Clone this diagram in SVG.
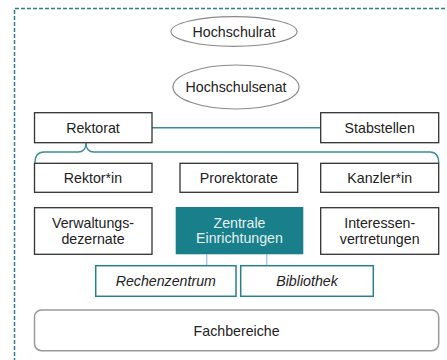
<svg xmlns="http://www.w3.org/2000/svg" width="447" height="360" viewBox="0 0 447 360">
<style>
text{font-family:"Liberation Sans",Arial,sans-serif;font-size:14.2px;fill:#222;text-anchor:middle;dominant-baseline:central}
.box{fill:#fff;stroke:#333;stroke-width:1.3}
.ell{fill:#fff;stroke:#8a8a8a;stroke-width:1.2}
.sub{fill:#fff;stroke:#2a7f8c;stroke-width:1.5}
.con{fill:none;stroke:#3d8c99;stroke-width:1.4}
</style>
<rect width="447" height="360" fill="#fff"/>
<path d="M14.5 362 V8.5 H450" fill="none" stroke="#2e7e8e" stroke-width="1.5" stroke-dasharray="4 2"/>
<g id="connectors">
<line class="con" x1="152" y1="127.7" x2="320.7" y2="127.7"/>
<path class="con" d="M86 142.7 Q86 152 78 152 H44 Q35 152 35 163 M86 142.7 Q86 152 94 152 H430 Q438.7 152 438.7 163"/>
<line x1="206.7" y1="254.3" x2="206.7" y2="265.7" stroke="#a9c9e6" stroke-width="1.4"/>
<line x1="266.7" y1="254.3" x2="266.7" y2="265.7" stroke="#a9c9e6" stroke-width="1.4"/>
</g>
<g id="hochschulrat"><ellipse class="ell" cx="234" cy="31.5" rx="63" ry="14.8"/><text x="234" y="31.5">Hochschulrat</text></g>
<g id="hochschulsenat"><ellipse class="ell" cx="236" cy="87" rx="63" ry="22"/><text x="236" y="87">Hochschulsenat</text></g>
<g id="rektorat"><rect class="box" x="34.5" y="112.7" width="117.5" height="30"/><text x="93" y="127.7">Rektorat</text></g>
<g id="stabstellen"><rect class="box" x="320.7" y="112.7" width="118" height="30"/><text x="379.7" y="127.7">Stabstellen</text></g>
<g id="rektorin"><rect class="box" x="34.5" y="163.3" width="117.5" height="29"/><text x="93" y="178">Rektor*in</text></g>
<g id="prorektorate"><rect class="box" x="180" y="163.3" width="117.7" height="29"/><text x="238.8" y="178">Prorektorate</text></g>
<g id="kanzlerin"><rect class="box" x="320.7" y="163.3" width="118" height="29"/><text x="379.7" y="178">Kanzler*in</text></g>
<g id="verwaltung"><rect class="box" x="34.5" y="207.7" width="117.5" height="46.6"/><text x="93" y="223">Verwaltungs-</text><text x="93" y="238.5">dezernate</text></g>
<g id="zentrale"><rect x="175.7" y="207" width="127.6" height="47.3" fill="#197f8b"/><text x="239.5" y="222.7" style="fill:#e3f1f2">Zentrale</text><text x="239.5" y="238.3" style="fill:#e3f1f2">Einrichtungen</text></g>
<g id="interessen"><rect class="box" x="320.7" y="207.7" width="118" height="46.6"/><text x="379.7" y="223">Interessen-</text><text x="379.7" y="238.5">vertretungen</text></g>
<g id="rechenzentrum"><rect class="sub" x="95.7" y="265.7" width="140.3" height="30.6"/><text x="165.8" y="281" font-style="italic">Rechenzentrum</text></g>
<g id="bibliothek"><rect class="sub" x="240.7" y="265.7" width="132.6" height="30.6"/><text x="307" y="281" font-style="italic">Bibliothek</text></g>
<g id="fachbereiche"><rect x="34.5" y="310" width="404.2" height="40.7" rx="7" fill="#fff" stroke="#9a9a9a" stroke-width="1.5"/><text x="236.6" y="330.5">Fachbereiche</text></g>
</svg>
